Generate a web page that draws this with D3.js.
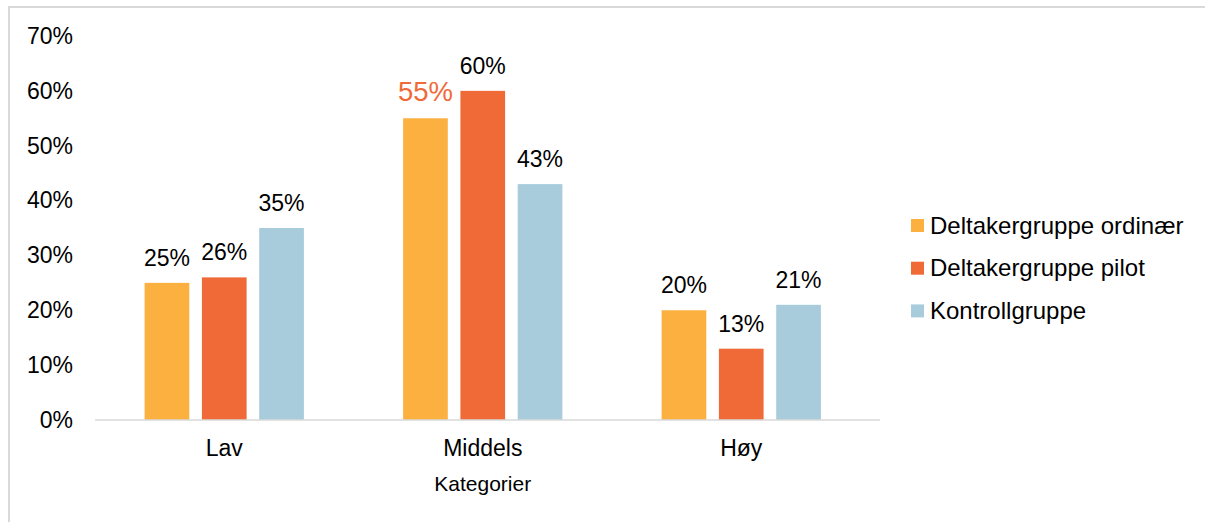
<!DOCTYPE html>
<html><head><meta charset="utf-8">
<script src="https://cdn.jsdelivr.net/npm/d3@7"></script>
<style>body{margin:0;background:#fff;font-family:"Liberation Sans",Arial,sans-serif;}</style>
</head><body><svg id="c" width="1205" height="522"></svg>
<script>
const categories = ["Lav", "Middels", "Høy"];
const seriesNames = ["Deltakergruppe ordinær", "Deltakergruppe pilot", "Kontrollgruppe"];
const ordinaer = [25, 55, 20];
const pilot = [26, 60, 13];
const kontroll = [35, 43, 21];
const yTicks = [0, 10, 20, 30, 40, 50, 60, 70];
const colors = ["#FBB040", "#F06A38", "#A9CCDD"];
const series = [ordinaer, pilot, kontroll];
const FONT = "Liberation Sans, Arial, sans-serif";

const svg = d3.select("#c");
svg.append("rect").attr("x", 9).attr("y", 7).attr("width", 1205).attr("height", 530)
  .attr("fill", "none").attr("stroke", "#d9d9d9").attr("stroke-width", 2);

const x0 = d3.scaleBand().domain(categories).range([95, 870.5]).paddingInner(0).paddingOuter(0);
const x1 = d3.scaleBand().domain(d3.range(3)).range([0, x0.bandwidth()]).paddingInner(0.22).paddingOuter(0.866);
const y = d3.scaleLinear().domain([0, 70]).range([420, 36]);

const yAxis = svg.append("g").attr("transform", "translate(95,0)")
  .call(d3.axisLeft(y).tickValues(yTicks).tickFormat(d => d + "%").tickSize(0).tickPadding(22));
yAxis.select(".domain").remove();
yAxis.selectAll("text").attr("font-size", 23).attr("fill", "#000").attr("font-family", FONT);

categories.forEach((c, i) => {
  const g = svg.append("g").attr("transform", `translate(${x0(c)},0)`);
  series.forEach((s, j) => {
    g.append("rect").attr("x", x1(j)).attr("y", y(s[i])).attr("width", x1.bandwidth())
      .attr("height", y(0) - y(s[i])).attr("fill", colors[j]);
    const special = (i === 1 && j === 0);
    g.append("text").attr("x", x1(j) + x1.bandwidth() / 2).attr("y", y(s[i]) - 17)
      .attr("text-anchor", "middle").attr("font-size", special ? 27.5 : 23)
      .attr("fill", special ? "#F06A38" : "#000").text(s[i] + "%");
  });
});

svg.append("line").attr("x1", 95).attr("x2", 880).attr("y1", y(0)).attr("y2", y(0))
  .attr("stroke", "#d9d9d9").attr("stroke-width", 1.5);

const xAxis = svg.append("g").attr("transform", `translate(0,${y(0)})`)
  .call(d3.axisBottom(x0).tickSize(0).tickPadding(20));
xAxis.select(".domain").remove();
xAxis.selectAll("text").attr("font-size", 23).attr("fill", "#000").attr("font-family", FONT);

svg.append("text").attr("x", x0("Middels") + x0.bandwidth() / 2).attr("y", 491).attr("text-anchor", "middle")
  .attr("font-size", 21).attr("fill", "#000").text("Kategorier");

const leg = svg.append("g");
seriesNames.forEach((n, i) => {
  const yy = 219 + i * 42.7;
  leg.append("rect").attr("x", 911).attr("y", yy).attr("width", 13).attr("height", 13).attr("fill", colors[i]);
  leg.append("text").attr("x", 930).attr("y", yy + 14.5).attr("font-size", 24).attr("fill", "#000").text(n);
});
</script></body></html>
